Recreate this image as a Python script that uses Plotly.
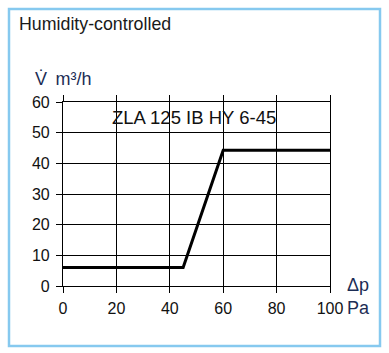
import plotly.graph_objects as go

# Data
pressure_pa = [0, 45, 60, 100]
airflow_m3h = [6, 6, 44.3, 44.3]
x_ticks = [0, 20, 40, 60, 80, 100]
y_ticks = [0, 10, 20, 30, 40, 50, 60]
title_text = "Humidity-controlled"
curve_label = "ZLA 125 IB HY 6-45"
y_unit = "V\u0307 \u2009m\u00b3/h"
x_unit_top = "\u0394p"
x_unit_bottom = "Pa"

W, H = 389, 353
L, R, T, B = 63, 330, 102, 286  # plot area in px


def px(xp):
    return (xp - L) / (R - L)


def py(yp):
    return (B - yp) / (B - T)


FONT = "Liberation Sans, Arial, Helvetica, sans-serif"
NAVY = "#1c2d55"

fig = go.Figure()
fig.add_trace(go.Scatter(
    x=pressure_pa, y=airflow_m3h, mode="lines",
    line=dict(color="black", width=3), showlegend=False, hoverinfo="skip",
))

fig.update_layout(
    width=W, height=H,
    margin=dict(l=L, r=W - R, t=T, b=H - B),
    paper_bgcolor="white", plot_bgcolor="white",
    font=dict(family=FONT, color="#111111"),
    xaxis=dict(
        range=[0, 100], tickvals=x_ticks, showgrid=True, gridcolor="black", gridwidth=1.2,
        zeroline=False, showline=True, linecolor="black", linewidth=1.2, mirror="ticks",
        ticks="outside", ticklen=6, tickwidth=1.2, tickcolor="black", ticklabelstandoff=2,
        tickfont=dict(size=16, color="#111111", family=FONT), fixedrange=True,
    ),
    yaxis=dict(
        range=[0, 60], tickvals=y_ticks, showgrid=True, gridcolor="black", gridwidth=1.2,
        zeroline=False, showline=True, linecolor="black", linewidth=1.2, mirror=True,
        ticks="outside", ticklen=6, tickwidth=1.2, tickcolor="black", ticklabelstandoff=3,
        tickfont=dict(size=16, color="#111111", family=FONT), fixedrange=True,
    ),
    shapes=[dict(
        type="rect", xref="paper", yref="paper",
        x0=px(9), x1=px(380), y0=py(346), y1=py(9),
        line=dict(color="#86c9ef", width=2.5), fillcolor="rgba(0,0,0,0)", layer="below",
    )],
    annotations=[
        dict(text=title_text, xref="paper", yref="paper", x=px(17), y=py(24),
             xanchor="left", yanchor="middle", showarrow=False,
             font=dict(size=17.8, color="#1a1a1a", family=FONT)),
        dict(text=y_unit, xref="paper", yref="paper", x=px(33), y=py(79),
             xanchor="left", yanchor="middle", showarrow=False,
             font=dict(size=18, color=NAVY, family=FONT)),
        dict(text=curve_label, xref="x", yref="y", x=49.1, y=54.9,
             xanchor="center", yanchor="middle", showarrow=False,
             font=dict(size=18.5, color="#111111", family=FONT)),
        dict(text=x_unit_top, xref="paper", yref="paper", x=px(345), y=py(285),
             xanchor="left", yanchor="middle", showarrow=False,
             font=dict(size=18, color=NAVY, family=FONT)),
        dict(text=x_unit_bottom, xref="paper", yref="paper", x=px(345), y=py(308),
             xanchor="left", yanchor="middle", showarrow=False,
             font=dict(size=18, color=NAVY, family=FONT)),
    ],
)

fig.write_html("out.html", config={"displayModeBar": False})
